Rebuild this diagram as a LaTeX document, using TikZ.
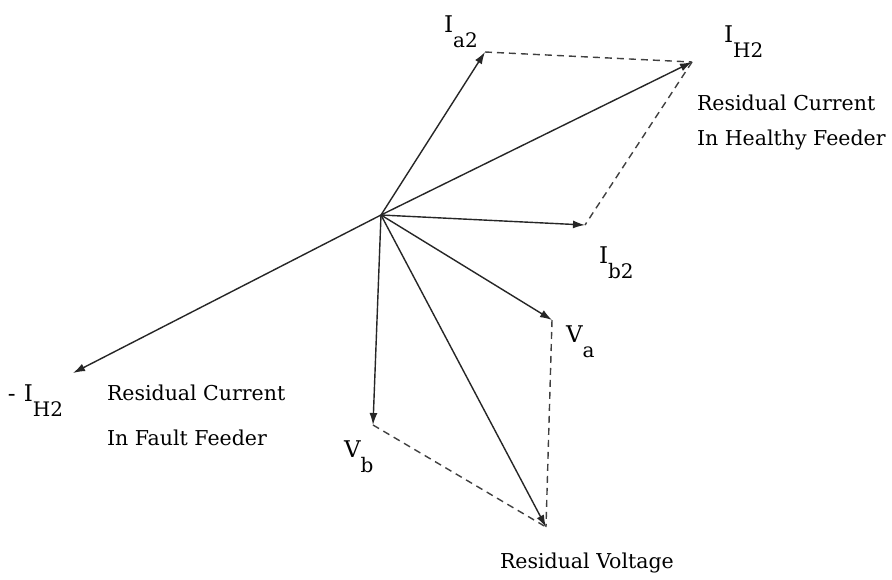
\documentclass[tikz,border=0pt]{standalone}
\usepackage{fontspec}
\setmainfont{DejaVu Serif}
\usetikzlibrary{arrows.meta}
\newcommand\subl[1]{\raisebox{-15pt}{\fontsize{20}{20}\selectfont #1}}
\begin{document}
\begin{tikzpicture}[x=1pt,y=-1pt,
  vec/.style={line width=1.4pt, draw=black!85, -{Latex[length=12pt,width=8pt]}},
  dsh/.style={line width=1.4pt, draw=black!75, dash pattern=on 7pt off 5pt},
  lbl/.style={inner sep=0pt, outer sep=0pt, anchor=base west, font=\fontsize{23}{24}\selectfont},
  txt/.style={inner sep=0pt, outer sep=0pt, anchor=base west, font=\fontsize{20.5}{24}\selectfont}]
\useasboundingbox (0,0) rectangle (892,579);
\fill[white] (0,0) rectangle (892,579);
% phasor tips
\coordinate (O) at (381,215);
\coordinate (Ia2) at (485,52);
\coordinate (IH2) at (692,62);
\coordinate (Ib2) at (585,225);
\coordinate (Va) at (552,320);
\coordinate (Vb) at (373,425);
\coordinate (Vr) at (546,527);
\coordinate (mIH2) at (73,373);
% dashed parallelogram sides
\draw[dsh] (Ia2) -- (IH2);
\draw[dsh] (IH2) -- (Ib2);
\draw[dsh] (Va) -- (Vr);
\draw[dsh] (Vb) -- (Vr);
% vectors
\draw[vec] (O) -- (Ia2);
\draw[vec] (O) -- (IH2);
\draw[vec] (O) -- (Ib2);
\draw[vec] (O) -- (Va);
\draw[vec] (O) -- (Vb);
\draw[vec] (O) -- (Vr);
\draw[vec] (O) -- (mIH2);
% labels
\node[lbl] (lIa2) at (444,32) {I\subl{a2}};
\node[lbl] (lIH2) at (724,42) {I\subl{H2}};
\node[txt] (tH1) at (697,110) {Residual Current};
\node[txt] (tH2) at (697,145) {In Healthy Feeder};
\node[lbl] (lIb2) at (599,263) {I\subl{b2}};
\node[lbl] (lVa) at (566,342) {V\subl{a}};
\node[lbl] (lmIH2) at (8,401) {-\hspace{8pt}I\subl{H2}};
\node[txt] (tF1) at (107,400) {Residual Current};
\node[txt] (tF2) at (107,445) {In Fault Feeder};
\node[lbl] (lVb) at (344,457) {V\subl{b}};
\node[txt] (tV) at (500,568) {Residual Voltage};
\end{tikzpicture}
\end{document}
